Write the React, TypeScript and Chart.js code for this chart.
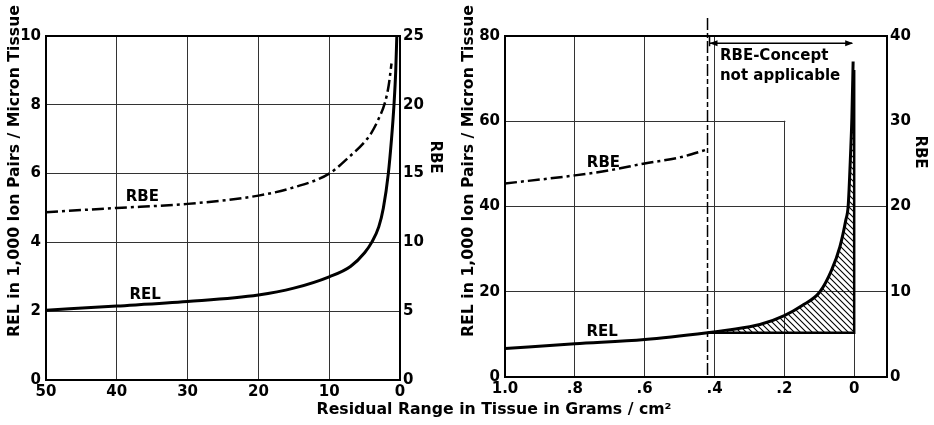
import React, { useEffect, useRef } from 'react';
import { Chart, registerables } from 'chart.js';
Chart.register(...registerables);

// ---------- data ----------
// Left panel: residual range 0–50 g/cm²
const leftRelRange = [50, 40, 30, 20, 15, 10, 7, 5, 4, 3, 2.35, 1.65, 1.2, 0.85, 0.6, 0.45];
const leftRel = [2.03, 2.15, 2.28, 2.47, 2.67, 3.0, 3.3, 3.7, 4.0, 4.45, 5.0, 6.0, 7.0, 8.0, 9.0, 10.0];
const leftRbeRange = [50, 40, 30, 20, 15, 10, 7, 5, 4, 3, 2.1, 1.6, 1.2];
const leftRbe = [12.2, 12.5, 12.8, 13.4, 14.0, 15.0, 16.3, 17.3, 18.0, 19.0, 20.2, 21.4, 23.0];

// Right panel: residual range 0–1 g/cm²
const rightRelRange = [1.0, 0.8, 0.6, 0.42, 0.365, 0.27, 0.2, 0.15, 0.098, 0.065, 0.041, 0.024, 0.017, 0.0103, 0.0065, 0.003];
const rightRel = [6.67, 7.8, 8.8, 10.4, 11.0, 12.3, 14.4, 16.7, 20.0, 25.0, 30.5, 36.8, 40.3, 52.4, 61.0, 74];
const rightRbeRange = [1.0, 0.8, 0.7, 0.6, 0.5, 0.42];
const rightRbe = [22.7, 23.65, 24.25, 25.05, 25.75, 26.7];

const rbeLimitRange = 0.42; // RBE concept not applicable below this range
const hatchBase = 10.4; // REL at the limit
const peakEdge = [0, 72]; // range, REL of the end of the track

// ticks
const leftRelTicks = { min: 0, max: 10, step: 2 };
const leftRbeTicks = { min: 0, max: 25, step: 5 };
const leftRangeTicks = { min: 0, max: 50, step: 10 };
const rightRelTicks = { min: 0, max: 80, step: 20 };
const rightRbeTicks = { min: 0, max: 40, step: 10 };
const rightRangeTickValues = [1.0, 0.8, 0.6, 0.4, 0.2, 0];
const rightRangeTickLabels = ['1.0', '.8', '.6', '.4', '.2', '0'];
const rightRangeMin = -0.094;

// texts
const yTitle = 'REL in 1,000 Ion Pairs / Micron Tissue';
const y2Title = 'RBE';
const xTitle = 'Residual Range in Tissue in Grams / cm²';
const conceptText = ['RBE-Concept', 'not applicable'];
const leftLabels = [
  { text: 'RBE', x: 36.4, y: 5.32 },
  { text: 'REL', x: 36.0, y: 2.47 },
];
const rightLabels = [
  { text: 'RBE', x: 0.718, y: 50.2 },
  { text: 'REL', x: 0.722, y: 10.6 },
];
const arrowRel = 78.3;
const conceptTextPos = { x: 0.3845, y1: 75.2, y2: 70.5 };

// ---------- styles ----------
const FAM = "'DejaVu Sans', sans-serif";
const tickFont = { family: FAM, size: 15, weight: 'bold' as const };
const LABEL_FONT = `bold 15px ${FAM}`;
const GRID = '#333';

function fitFont(ctx: CanvasRenderingContext2D, text: string, width: number) {
  ctx.font = `bold 20px ${FAM}`;
  const w = ctx.measureText(text).width;
  return `bold ${(20 * width / w).toFixed(2)}px ${FAM}`;
}
function drawText(ctx: CanvasRenderingContext2D, text: string, x: number, y: number, rot: number, font: string, align: CanvasTextAlign = 'center') {
  ctx.save();
  ctx.translate(x, y);
  ctx.rotate(rot);
  ctx.font = font;
  ctx.fillStyle = '#000';
  ctx.textAlign = align;
  ctx.textBaseline = 'middle';
  ctx.fillText(text, 0, 0);
  ctx.restore();
}
function frame(ctx: CanvasRenderingContext2D, a: any) {
  ctx.save();
  ctx.strokeStyle = '#000';
  ctx.lineWidth = 2;
  ctx.strokeRect(a.left, a.top, a.right - a.left, a.bottom - a.top);
  ctx.restore();
}
function arrowHead(ctx: CanvasRenderingContext2D, x: number, y: number, dir: number) {
  ctx.beginPath();
  ctx.moveTo(x, y);
  ctx.lineTo(x - dir * 8, y - 3);
  ctx.lineTo(x - dir * 8, y + 3);
  ctx.closePath();
  ctx.fill();
}

const pts = (xs: number[], ys: number[]) => xs.map((x, i) => ({ x, y: ys[i] }));

function axisX(min: number, max: number, extra: any = {}) {
  return {
    type: 'linear' as const, min, max, reverse: true,
    ticks: { color: '#000', font: tickFont, padding: 3, maxRotation: 0, autoSkip: false, ...(extra.ticks || {}) },
    grid: { color: GRID, lineWidth: 1, drawTicks: false },
    border: { display: false },
    afterFit: (s: any) => { s.height = 30; },
    ...(extra.rest || {}),
  };
}
function axisY(t: any, position: 'left' | 'right', width: number, showGrid: boolean) {
  return {
    type: 'linear' as const, position, min: t.min, max: t.max,
    ticks: { stepSize: t.step, color: '#000', font: tickFont, padding: position === 'left' ? 5 : 3 },
    grid: { display: showGrid, color: GRID, lineWidth: 1, drawTicks: false },
    border: { display: false },
    afterFit: (s: any) => { s.width = width; },
  };
}

function makeHatch(): CanvasPattern | string {
  const c = document.createElement('canvas');
  c.width = 6; c.height = 6;
  const g = c.getContext('2d');
  if (!g) return '#888';
  g.strokeStyle = '#000';
  g.lineWidth = 1.1;
  g.beginPath();
  g.moveTo(-1, -1); g.lineTo(7, 7);
  g.moveTo(-1, 5); g.lineTo(1, 7);
  g.moveTo(5, -1); g.lineTo(7, 1);
  g.stroke();
  return g.createPattern(c, 'repeat') || '#888';
}

export default function App() {
  const leftRef = useRef<HTMLCanvasElement>(null);
  const rightRef = useRef<HTMLCanvasElement>(null);

  useEffect(() => {
    const lineBase = { pointRadius: 0, borderColor: '#000', cubicInterpolationMode: 'monotone' as const, fill: false };

    const leftPlugin = {
      id: 'leftDecor',
      afterDraw(chart: any) {
        const { ctx, chartArea: a, scales } = chart;
        frame(ctx, a);
        drawText(ctx, yTitle, 15, 171, -Math.PI / 2, fitFont(ctx, yTitle, 332));
        drawText(ctx, y2Title, 435, 157, Math.PI / 2, `bold 15px ${FAM}`);
        leftLabels.forEach(l => drawText(ctx, l.text, scales.x.getPixelForValue(l.x), scales.y.getPixelForValue(l.y), 0, LABEL_FONT));
      },
    };

    const left = new Chart(leftRef.current!, {
      type: 'line',
      data: {
        datasets: [
          { ...lineBase, data: pts(leftRelRange, leftRel), yAxisID: 'y', borderWidth: 3 },
          { ...lineBase, data: pts(leftRbeRange, leftRbe), yAxisID: 'y1', borderWidth: 2.5, borderDash: [12, 4, 3, 4] },
        ],
      },
      options: {
        responsive: false,
        animation: false,
        layout: { padding: { left: 0, right: 494, top: 36, bottom: 15 } },
        plugins: { legend: { display: false }, tooltip: { enabled: false } },
        scales: {
          x: axisX(leftRangeTicks.min, leftRangeTicks.max, { ticks: { stepSize: leftRangeTicks.step } }),
          y: axisY(leftRelTicks, 'left', 46, true),
          y1: axisY(leftRbeTicks, 'right', 40, false),
        },
      } as any,
      plugins: [leftPlugin],
    });

    const rightPlugin = {
      id: 'rightDecor',
      beforeDatasetsDraw(chart: any) {
        const { ctx, chartArea: a, scales } = chart;
        const x = scales.x, y = scales.y;
        ctx.save();
        ctx.fillStyle = '#fff';
        const x04 = x.getPixelForValue(0.4), x02 = x.getPixelForValue(0.2), y60 = y.getPixelForValue(60);
        ctx.fillRect(x04 + 1, a.top + 1, a.right - x04 - 2, y60 - a.top - 1.5);
        ctx.fillRect(x02 + 1, y60 - 2, a.right - x02 - 2, 4);
        ctx.restore();
      },
      afterDraw(chart: any) {
        const { ctx, chartArea: a, scales } = chart;
        const x = scales.x, y = scales.y;
        frame(ctx, a);
        // boundary of RBE concept
        const xb = x.getPixelForValue(rbeLimitRange);
        ctx.save();
        ctx.strokeStyle = '#000';
        ctx.lineWidth = 1.5;
        ctx.setLineDash([12, 3, 5, 3]);
        ctx.beginPath();
        ctx.moveTo(xb, a.top - 18);
        ctx.lineTo(xb, a.bottom);
        ctx.stroke();
        ctx.setLineDash([]);
        // arrow
        const ya = y.getPixelForValue(arrowRel);
        const x0 = x.getPixelForValue(0);
        ctx.lineWidth = 1.5;
        ctx.beginPath();
        ctx.moveTo(xb + 2, ya);
        ctx.lineTo(x0 - 2, ya);
        ctx.moveTo(xb + 2, a.top);
        ctx.lineTo(xb + 2, ya + 3);
        ctx.stroke();
        ctx.fillStyle = '#000';
        arrowHead(ctx, xb + 2, ya, -1);
        arrowHead(ctx, x0 - 1, ya, 1);
        ctx.restore();
        drawText(ctx, conceptText[0], x.getPixelForValue(conceptTextPos.x), y.getPixelForValue(conceptTextPos.y1), 0, LABEL_FONT, 'left');
        drawText(ctx, conceptText[1], x.getPixelForValue(conceptTextPos.x), y.getPixelForValue(conceptTextPos.y2), 0, LABEL_FONT, 'left');
        rightLabels.forEach(l => drawText(ctx, l.text, x.getPixelForValue(l.x), y.getPixelForValue(l.y), 0, LABEL_FONT));
        drawText(ctx, yTitle, 469, 171, -Math.PI / 2, fitFont(ctx, yTitle, 332));
        drawText(ctx, y2Title, 920, 152, Math.PI / 2, `bold 15px ${FAM}`);
        drawText(ctx, xTitle, 494, 410, 0, fitFont(ctx, xTitle, 355));
      },
    };

    const hatchIdx = rightRelRange.map((_, i) => i).filter(i => rightRelRange[i] <= rbeLimitRange);
    const right = new Chart(rightRef.current!, {
      type: 'line',
      data: {
        datasets: [
          {
            ...lineBase,
            data: hatchIdx.map(i => ({ x: rightRelRange[i], y: rightRel[i] })),
            yAxisID: 'y', borderWidth: 0, borderColor: 'rgba(0,0,0,0)',
            backgroundColor: makeHatch() as any, fill: { value: hatchBase },
          },
          { ...lineBase, data: pts(rightRelRange, rightRel), yAxisID: 'y', borderWidth: 3 },
          {
            ...lineBase, cubicInterpolationMode: 'default' as const, tension: 0,
            data: [{ x: rbeLimitRange, y: hatchBase }, { x: peakEdge[0], y: hatchBase }, { x: peakEdge[0], y: peakEdge[1] }],
            yAxisID: 'y', borderWidth: 2.5,
          },
          { ...lineBase, data: pts(rightRbeRange, rightRbe), yAxisID: 'y1', borderWidth: 2.5, borderDash: [12, 4, 3, 4] },
        ],
      },
      options: {
        responsive: false,
        animation: false,
        layout: { padding: { left: 459, right: 7, top: 36, bottom: 18 } },
        plugins: { legend: { display: false }, tooltip: { enabled: false } },
        scales: {
          x: axisX(rightRangeMin, 1.0, {
            ticks: { callback: (_v: any, i: number) => rightRangeTickLabels[i] },
            rest: { afterBuildTicks: (s: any) => { s.ticks = rightRangeTickValues.map(v => ({ value: v })); } },
          }),
          y: axisY(rightRelTicks, 'left', 46, true),
          y1: axisY(rightRbeTicks, 'right', 40, false),
        },
      } as any,
      plugins: [rightPlugin],
    });

    return () => { left.destroy(); right.destroy(); };
  }, []);

  const cv: React.CSSProperties = { position: 'absolute', left: 0, top: 0, width: 934, height: 425 };
  return (
    <div style={{ position: 'fixed', left: 0, top: 0, width: 934, height: 425, background: '#fff' }}>
      <canvas ref={leftRef} width={934} height={425} style={cv} />
      <canvas ref={rightRef} width={934} height={425} style={cv} />
    </div>
  );
}
